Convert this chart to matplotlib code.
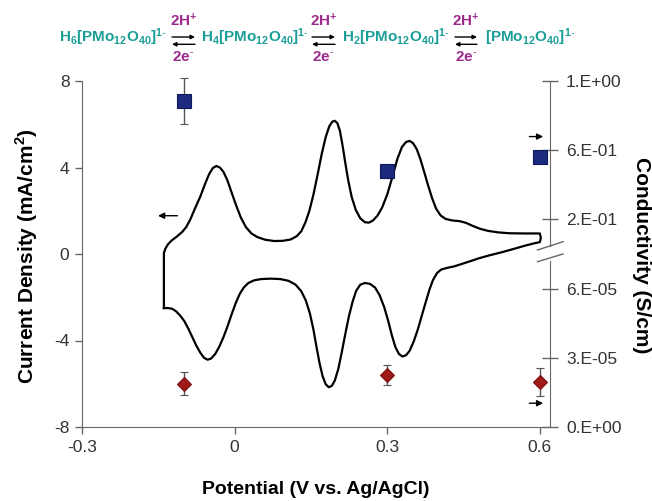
import matplotlib
matplotlib.use("Agg")
import matplotlib.pyplot as plt
from matplotlib.lines import Line2D
from matplotlib.patches import FancyArrowPatch

plt.rcParams['font.family'] = ['Liberation Sans', 'DejaVu Sans']
plt.rcParams['mathtext.fontset'] = 'custom'
plt.rcParams['mathtext.rm'] = 'Liberation Sans'
plt.rcParams['mathtext.bf'] = 'Liberation Sans:bold'
plt.rcParams['axes.unicode_minus'] = False

#%% Data #####################################################################

# cyclic voltammogram, closed loop (V vs Ag/AgCl, mA/cm2)
# anodic branch, left to right
cv_up_v = [-0.139, -0.139, -0.136, -0.131, -0.124, -0.114, -0.103, -0.095, -0.087,
           -0.078, -0.067, -0.058, -0.050, -0.043, -0.036, -0.029, -0.022, -0.014,
           -0.006, 0.003, 0.012, 0.022, 0.033, 0.045, 0.060, 0.078, 0.095, 0.110,
           0.122, 0.131, 0.139, 0.147, 0.155, 0.163, 0.171, 0.179, 0.186, 0.192,
           0.197, 0.202, 0.207, 0.212, 0.217, 0.223, 0.230, 0.238, 0.247, 0.256,
           0.264, 0.272, 0.281, 0.290, 0.300, 0.310, 0.320, 0.329, 0.337, 0.344,
           0.351, 0.358, 0.365, 0.372, 0.380, 0.388, 0.396, 0.405, 0.415, 0.428,
           0.442, 0.455, 0.468, 0.482, 0.498, 0.518, 0.540, 0.570, 0.600, 0.602,
           0.600]
cv_up_j = [-2.50, 0.05, 0.25, 0.45, 0.62, 0.80, 1.02, 1.25, 1.60,
           2.10, 2.68, 3.25, 3.70, 3.97, 4.07, 4.00, 3.80, 3.40,
           2.85, 2.25, 1.70, 1.25, 0.95, 0.78, 0.66, 0.60, 0.61, 0.67,
           0.82, 1.05, 1.45, 2.00, 2.75, 3.65, 4.60, 5.40, 5.90, 6.12,
           6.16, 6.05, 5.70, 5.05, 4.30, 3.45, 2.65, 2.05, 1.65, 1.47,
           1.45, 1.55, 1.78, 2.15, 2.75, 3.55, 4.40, 4.95, 5.18, 5.23,
           5.12, 4.85, 4.40, 3.85, 3.20, 2.60, 2.10, 1.78, 1.62, 1.55,
           1.52, 1.44, 1.30, 1.17, 1.07, 1.00, 0.96, 0.95, 0.95, 0.75,
           0.55]
# cathodic branch, right to left
cv_dn_v = [0.590, 0.570, 0.551, 0.525, 0.498, 0.480, 0.465, 0.448, 0.432,
           0.418, 0.406, 0.398, 0.390, 0.383, 0.376, 0.368, 0.360, 0.352,
           0.344, 0.337, 0.330, 0.323, 0.316, 0.309, 0.302, 0.294, 0.285,
           0.276, 0.266, 0.256, 0.247, 0.239, 0.232, 0.225, 0.218, 0.211,
           0.204, 0.197, 0.191, 0.185, 0.179, 0.173, 0.167, 0.161, 0.155,
           0.148, 0.140, 0.131, 0.120, 0.106, 0.090, 0.071, 0.052, 0.038,
           0.027, 0.018, 0.010, 0.002, -0.006, -0.014, -0.022, -0.030, -0.038,
           -0.046, -0.053, -0.060, -0.067, -0.075, -0.083, -0.091, -0.099,
           -0.107, -0.115, -0.123, -0.131, -0.139]
cv_dn_j = [0.50, 0.38, 0.25, 0.08, -0.08, -0.20, -0.32, -0.45, -0.57,
           -0.64, -0.72, -0.88, -1.20, -1.65, -2.20, -2.85, -3.50, -4.05,
           -4.48, -4.68, -4.74, -4.62, -4.30, -3.75, -3.10, -2.45, -1.90,
           -1.55, -1.38, -1.34, -1.42, -1.70, -2.20, -2.85, -3.65, -4.50,
           -5.30, -5.85, -6.10, -6.16, -6.02, -5.65, -5.05, -4.30, -3.50,
           -2.75, -2.15, -1.72, -1.42, -1.24, -1.16, -1.14, -1.16, -1.22,
           -1.34, -1.55, -1.85, -2.28, -2.80, -3.35, -3.85, -4.28, -4.62,
           -4.83, -4.89, -4.80, -4.58, -4.25, -3.85, -3.45, -3.10,
           -2.85, -2.65, -2.53, -2.50, -2.50]

# conductivity (S/cm) at three potentials
cond_v = [-0.1, 0.3, 0.6]
cond_hi = [0.886, 0.48, 0.563]          # blue squares, upper scale
cond_hi_err = [0.133, 0.02, 0.0]
cond_lo = [1.88e-5, 2.27e-5, 1.96e-5]   # red diamonds, lower scale
cond_lo_err = [0.51e-5, 0.43e-5, 0.6e-5]

x_ticks = [-0.3, 0, 0.3, 0.6]
x_labels = ['-0.3', '0', '0.3', '0.6']
y_ticks = [-8, -4, 0, 4, 8]
y_labels = ['-8', '-4', '0', '4', '8']
hi_ticks = [0.2, 0.6, 1.0]
hi_labels = ['2.E-01', '6.E-01', '1.E+00']
lo_ticks = [0, 3e-5, 6e-5]
lo_labels = ['0.E+00', '3.E-05', '6.E-05']

species = [r'$\mathbf{H_6[PMo_{12}O_{40}]^{1\text{-}}}$',
           r'$\mathbf{H_4[PMo_{12}O_{40}]^{1\text{-}}}$',
           r'$\mathbf{H_2[PMo_{12}O_{40}]^{1\text{-}}}$',
           r'$\mathbf{[PMo_{12}O_{40}]^{1\text{-}}}$']

#%% Figure ###################################################################

W, H = 652, 501
fig = plt.figure(figsize=(W / 100, H / 100), dpi=100)

def fx(px):
    return px / W

def fy(py):
    return 1 - py / H

axcol = '#666666'
tickcol = '#333333'

ax = fig.add_axes([fx(82), fy(427), fx(550) - fx(82), fy(81) - fy(427)])
ax.plot(cv_up_v + cv_dn_v, cv_up_j + cv_dn_j, color='black', lw=1.6,
        solid_joinstyle='round')
ax.set_xlim(-0.3, 0.62)
ax.set_ylim(-8, 8)
ax.set_xticks(x_ticks, x_labels)
ax.set_yticks(y_ticks, y_labels)
for s in ['top', 'right']:
    ax.spines[s].set_visible(False)
for s in ['left', 'bottom']:
    ax.spines[s].set_color(axcol)
ax.tick_params(colors=axcol, labelcolor=tickcol, labelsize=12.5, length=5, width=1, pad=4)

# arrows pointing at the axes used by each data set
arrow = dict(arrowstyle='-|>', color='black', lw=1, mutation_scale=9)
ax.annotate('', xy=(-0.156, 1.77), xytext=(-0.107, 1.77), arrowprops=arrow)
ax.annotate('', xy=(0.612, 5.43), xytext=(0.574, 5.43), arrowprops=arrow, annotation_clip=False)
ax.annotate('', xy=(0.612, -6.9), xytext=(0.574, -6.9), arrowprops=arrow, annotation_clip=False)

# right axis, broken in two scales
ax_hi = fig.add_axes([fx(82), fy(254), fx(550) - fx(82), fy(81) - fy(254)])
ax_lo = fig.add_axes([fx(82), fy(427), fx(550) - fx(82), fy(254) - fy(427)])
for a in (ax_hi, ax_lo):
    a.patch.set_visible(False)
    a.set_xlim(-0.3, 0.62)
    a.xaxis.set_visible(False)
    for s in ['top', 'left', 'bottom']:
        a.spines[s].set_visible(False)
    a.spines['right'].set_color(axcol)
    a.yaxis.tick_right()
    a.tick_params(axis='y', colors=axcol, labelcolor=tickcol, labelsize=12.5,
                  direction='inout', length=11, width=1, pad=6)

ax_hi.set_ylim(0, 1.0)
ax_hi.set_yticks(hi_ticks, hi_labels)
ax_hi.spines['right'].set_bounds(0.047, 1.0)
ax_lo.set_ylim(0, 7.5e-5)
ax_lo.set_yticks(lo_ticks, lo_labels)
ax_lo.spines['right'].set_bounds(0, 7.2e-5)

ax_hi.errorbar(cond_v, cond_hi, yerr=cond_hi_err, fmt='s', ms=9.5,
               mfc='#1c2a80', mec='#10185a', mew=0.8, ecolor='#555555',
               elinewidth=1, capsize=3, capthick=1, clip_on=False)
ax_lo.errorbar(cond_v, cond_lo, yerr=cond_lo_err, fmt='D', ms=7.5,
               mfc='#a01a1a', mec='#7a1010', mew=0.8, ecolor='#555555',
               elinewidth=1, capsize=3, capthick=1, clip_on=False)

# break marks on the right axis
for y0, y1 in [(250, 241.7), (261.7, 254)]:
    fig.add_artist(Line2D([fx(537.5), fx(563)], [fy(y0), fy(y1)], color=axcol, lw=1))

# axis titles
fig.text(fx(27), fy(256), r'Current Density (mA/cm$^\mathbf{2}$)', rotation=90,
         ha='center', va='center', fontsize=15, fontweight='bold')
fig.text(fx(641), fy(255), 'Conductivity (S/cm)', rotation=270,
         ha='center', va='center', fontsize=15, fontweight='bold')
fig.text(fx(316), fy(490), 'Potential (V vs. Ag/AgCl)',
         ha='center', va='center', fontsize=14, fontweight='bold')

# reaction scheme above the plot
teal = '#1a9e98'
magenta = '#9c2a8c'
species_x = [59, 201, 342, 485]
arrow_x = [(172, 195), (312, 335), (455, 477)]
for sx, s in zip(species_x, species):
    fig.text(fx(sx), fy(41.7), s, color=teal, fontsize=11, ha='left', va='baseline')
head = dict(arrowstyle='-|>', color='black', lw=1, mutation_scale=6,
            shrinkA=0, shrinkB=0)
for x0, x1 in arrow_x:
    fig.add_artist(FancyArrowPatch((fx(x0), fy(37)), (fx(x1), fy(37)),
                                   transform=fig.transFigure, **head))
    fig.add_artist(FancyArrowPatch((fx(x1), fy(44.3)), (fx(x0), fy(44.3)),
                                   transform=fig.transFigure, **head))
    xc = (x0 + x1) / 2
    fig.text(fx(xc), fy(26), r'$\mathbf{2H^{+}}$', color=magenta, fontsize=11,
             ha='center', va='baseline')
    fig.text(fx(xc), fy(61), r'$\mathbf{2e^{\text{-}}}$', color=magenta, fontsize=11,
             ha='center', va='baseline')

fig.savefig('out.png', dpi=100)
